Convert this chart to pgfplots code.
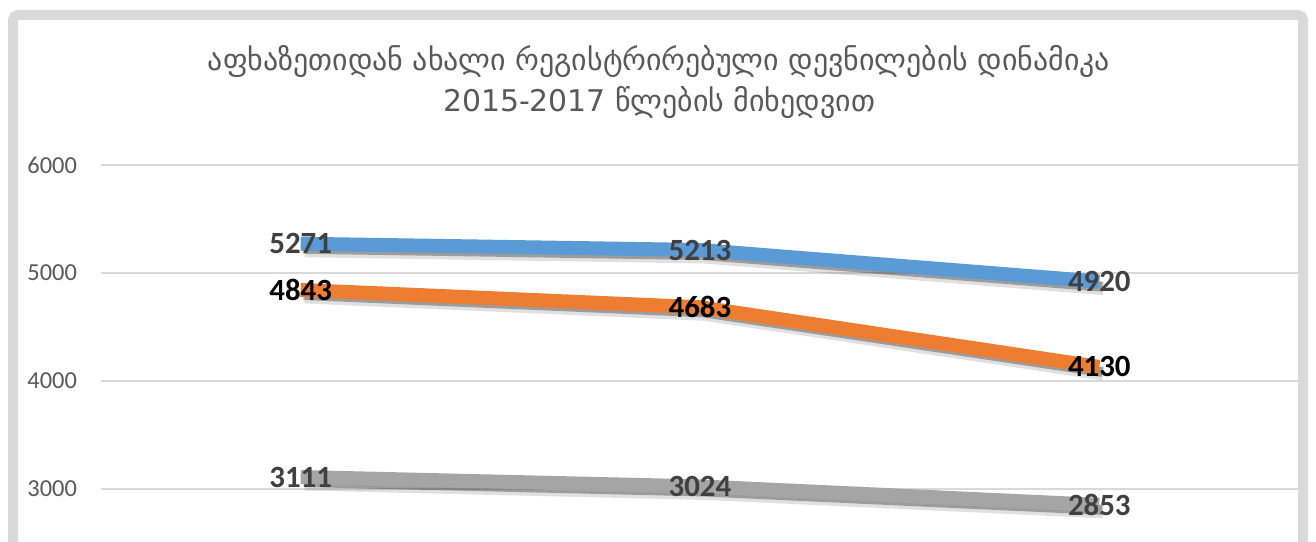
\documentclass[border=0pt]{standalone}
\usepackage{pgfplots}
\pgfplotsset{compat=1.18}
\usepackage{fontspec}
\setmainfont{Carlito}
\newfontfamily\geofont{DejaVu Sans}
\definecolor{sblue}{HTML}{5B9BD5}
\definecolor{sorange}{HTML}{ED7D31}
\definecolor{sgray}{HTML}{A5A5A5}
\definecolor{gridc}{HTML}{D9D9D9}
\definecolor{framec}{HTML}{D9D9D9}
\definecolor{txtc}{HTML}{595959}
\definecolor{lblc}{HTML}{404040}
\begin{document}
\begin{tikzpicture}
\clip (0bp,0bp) rectangle (1316bp,542bp);
\fill[white] (0bp,0bp) rectangle (1316bp,542bp);
\draw[framec, line width=10bp, rounded corners=5bp] (13bp,-60bp) -- (13bp,527bp) -- (1303bp,527bp) -- (1303bp,-60bp);
\node[font=\geofont\fontsize{30}{33}\selectfont, text=txtc] at (659bp,480bp) {აფხაზეთიდან ახალი რეგისტრირებული დევნილების დინამიკა};
\node[font=\geofont\fontsize{30}{33}\selectfont, text=txtc] at (659bp,439bp) {2015-2017 წლების მიხედვით};
\begin{axis}[
  at={(101bp,-55bp)}, anchor=south west,
  scale only axis, width=1198bp, height=432bp,
  xmin=-0.5, xmax=2.5, ymin=2000, ymax=6000,
  axis line style={draw=none},
  ytick={3000,4000,5000,6000},
  extra y ticks={2000}, extra y tick labels={},
  xtick=\empty,
  major tick length=0pt,
  ymajorgrids, grid style={gridc, line width=1.3bp},
  yticklabel style={font=\fontsize{24.5}{27}\selectfont, text=txtc, anchor=east, xshift=-20.5bp},
  /pgf/number format/assume math mode=true,
  /pgf/number format/1000 sep={},
  clip=false,
  every node near coord/.append style={anchor=center, font=\bfseries\fontsize{31}{33}\selectfont},
]
% shadows
\addplot[black, opacity=0.12, line width=13bp, xshift=4bp, yshift=-7bp] coordinates {(0,5271) (1,5213) (2,4920)};
\addplot[black, opacity=0.3, line width=10bp, xshift=3bp, yshift=-5bp] coordinates {(0,5271) (1,5213) (2,4920)};
\addplot[sblue, line width=14bp] coordinates {(0,5271) (1,5213) (2,4920)};
\addplot[black, opacity=0.12, line width=13bp, xshift=4bp, yshift=-7bp] coordinates {(0,4843) (1,4683) (2,4130)};
\addplot[black, opacity=0.3, line width=10bp, xshift=3bp, yshift=-5bp] coordinates {(0,4843) (1,4683) (2,4130)};
\addplot[sorange, line width=14bp] coordinates {(0,4843) (1,4683) (2,4130)};
\addplot[black, opacity=0.12, line width=13bp, xshift=4bp, yshift=-7bp] coordinates {(0,3111) (1,3024) (2,2853)};
\addplot[black, opacity=0.3, line width=10bp, xshift=3bp, yshift=-5bp] coordinates {(0,3111) (1,3024) (2,2853)};
\addplot[sgray, line width=14bp] coordinates {(0,3111) (1,3024) (2,2853)};
% labels
\addplot[draw=none, nodes near coords, every node near coord/.append style={text=lblc}] coordinates {(0,5271) (1,5213) (2,4920)};
\addplot[draw=none, nodes near coords, every node near coord/.append style={text=black}] coordinates {(0,4843) (1,4683) (2,4130)};
\addplot[draw=none, nodes near coords, every node near coord/.append style={text=lblc}] coordinates {(0,3111) (1,3024) (2,2853)};
\end{axis}
\end{tikzpicture}
\end{document}
